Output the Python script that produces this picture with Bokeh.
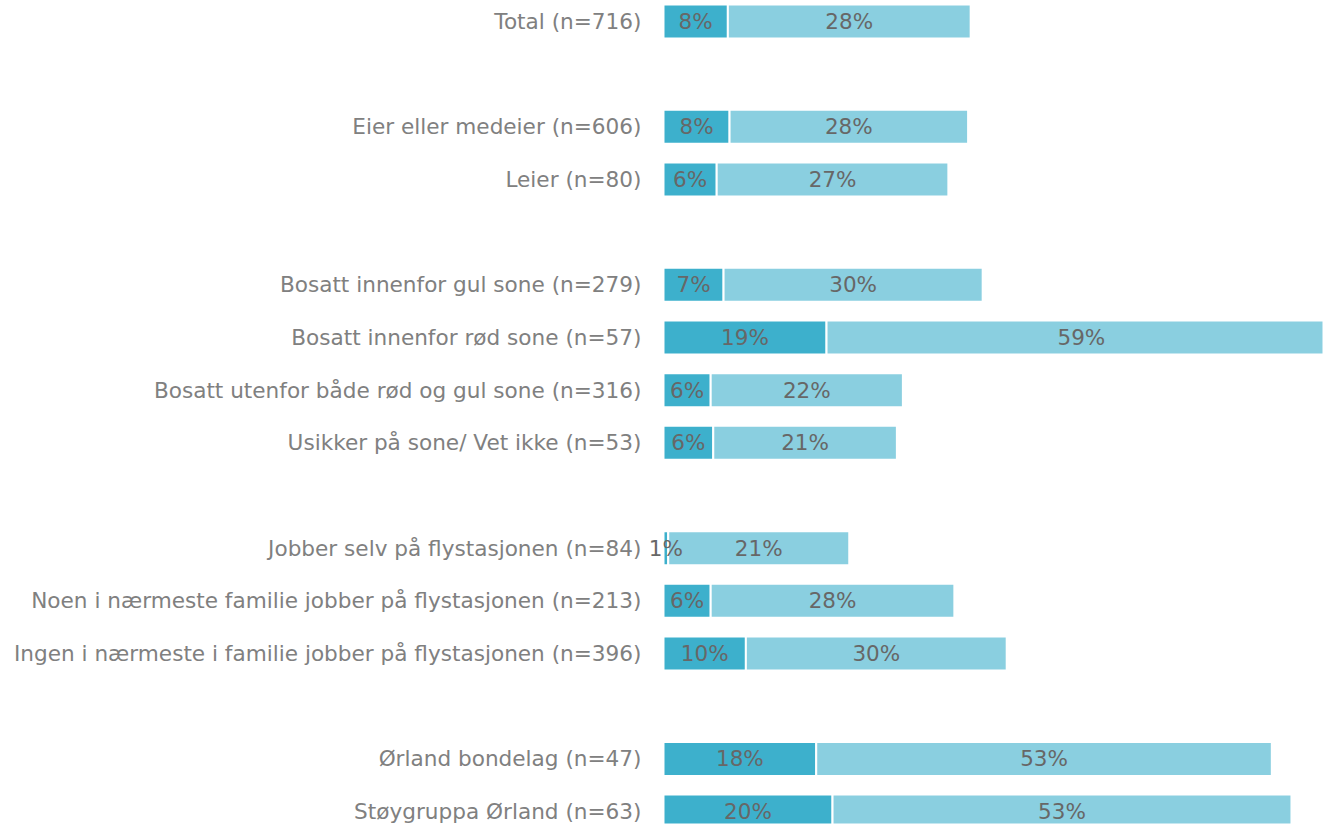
from bokeh.plotting import figure
from bokeh.models import Range1d, FixedTicker, ColumnDataSource
from bokeh.core.properties import value
from bokeh.embed import file_html
from bokeh.resources import INLINE

categories = [
    "Total (n=716)",
    "Eier eller medeier (n=606)",
    "Leier (n=80)",
    "Bosatt innenfor gul sone (n=279)",
    "Bosatt innenfor rød sone (n=57)",
    "Bosatt utenfor både rød og gul sone (n=316)",
    "Usikker på sone/ Vet ikke (n=53)",
    "Jobber selv på flystasjonen (n=84)",
    "Noen i nærmeste familie jobber på flystasjonen (n=213)",
    "Ingen i nærmeste i familie jobber på flystasjonen (n=396)",
    "Ørland bondelag (n=47)",
    "Støygruppa Ørland (n=63)",
]
group_sizes = [1, 2, 4, 3, 2]
series1 = [7.5, 7.7, 6.2, 7.0, 19.0, 5.5, 5.8, 0.55, 5.5, 9.6, 17.8, 19.7]
series2 = [28.3, 27.8, 27.0, 30.2, 59.4, 22.4, 21.4, 21.1, 28.4, 30.4, 53.1, 53.49]

# slot positions: one empty slot between groups
ys = []
slot = 0
for g in group_sizes:
    for _ in range(g):
        ys.append(slot)
        slot += 1
    slot += 1
n_slots = ys[-1]

W, H = 1323, 824
BAR_X0 = 663        # pixel where value 0 sits
FRAME_LEFT = 641    # frame starts right after the labels
PX_PER_UNIT = 8.58
PITCH = 52.67
TOP_OFF = 21

totals = [a + b for a, b in zip(series1, series2)]
src = ColumnDataSource(dict(
    y=ys, v1=series1, v2=series2, tot=totals,
    c1=[a / 2 for a in series1],
    c2=[a + b / 2 for a, b in zip(series1, series2)],
    l1=[f"{a:.0f}%" for a in series1],
    l2=[f"{b:.0f}%" for b in series2],
))

p = figure(
    width=W, height=H,
    x_range=Range1d(-(BAR_X0 - FRAME_LEFT) / PX_PER_UNIT, (W - BAR_X0) / PX_PER_UNIT),
    y_range=Range1d(n_slots + (H - TOP_OFF - n_slots * PITCH) / PITCH, -TOP_OFF / PITCH),
    output_backend="svg", toolbar_location=None,
    x_axis_location=None,
    min_border_left=FRAME_LEFT, min_border_right=0, min_border_top=0, min_border_bottom=0,
)
p.outline_line_color = None
p.xgrid.visible = False
p.ygrid.visible = False
p.background_fill_color = "white"

dark = "#3DB0CC"
light = "#8ACFE0"
bar_h = 34 / PITCH
p.hbar(y="y", left=0, right="v1", height=bar_h, source=src,
       fill_color=dark, line_color="white", line_width=2)
p.hbar(y="y", left="v1", right="tot", height=bar_h, source=src,
       fill_color=light, line_color="white", line_width=2)

font = value("DejaVu Sans")
for xc, lab in (("c1", "l1"), ("c2", "l2")):
    p.text(x=xc, y="y", text=lab, source=src, text_align="center",
           text_baseline="middle", text_font=font, text_font_size="21.5px",
           text_color="#676767")

ax = p.yaxis[0]
ax.ticker = FixedTicker(ticks=ys)
ax.major_label_overrides = {y: c for y, c in zip(ys, categories)}
ax.axis_line_color = None
ax.major_tick_line_color = None
ax.minor_tick_line_color = None
ax.major_tick_in = 0
ax.major_tick_out = 0
ax.major_label_standoff = 0
ax.major_label_text_font = "DejaVu Sans"
ax.major_label_text_font_size = "21.6px"
ax.major_label_text_color = "#808080"

open("out.html", "w").write(file_html(p, INLINE))
